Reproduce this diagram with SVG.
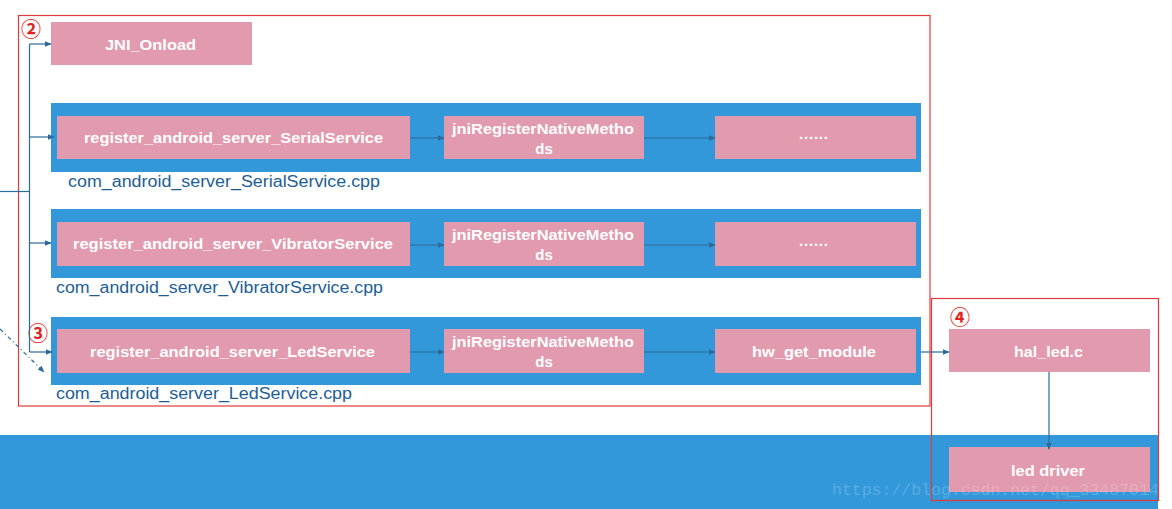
<svg xmlns="http://www.w3.org/2000/svg" width="1172" height="509" viewBox="0 0 1172 509">
  <style>
    .band { fill: #3398d9; }
    .node { fill: #e29aae; }
    .nt { font-family: "Liberation Sans", Arial, sans-serif; font-weight: bold; font-size: 15px; fill: #ffffff; text-anchor: middle; dominant-baseline: central; }
    .lbl { font-family: "Liberation Sans", Arial, sans-serif; font-size: 16px; fill: #1f5e95; }
    .frame { fill: none; stroke: #e03a3a; stroke-width: 1.2; }
    .num { font-family: "Noto Sans CJK SC", "DejaVu Sans", sans-serif; font-size: 20px; font-weight: bold; fill: #e52020; dominant-baseline: central; }
    .conn { fill: none; stroke: #2c6a9a; stroke-width: 1.2; }
    .wm { font-family: "Liberation Mono", monospace; font-size: 16.5px; fill: #ffffff; fill-opacity: 0.2; }
  </style>
  <defs>
    <marker id="arr" viewBox="0 0 10 10" refX="9" refY="5" markerWidth="7" markerHeight="7" markerUnits="userSpaceOnUse" orient="auto">
      <path d="M0,1 L10,5 L0,9 z" fill="#2c6a9a"/>
    </marker>
  </defs>

  <rect width="1172" height="509" fill="#ffffff"/>
  <!-- bottom band -->
  <rect class="band" x="0" y="435" width="1158" height="74"/>

  <!-- frames -->
  <rect class="frame" x="18.5" y="15.5" width="911.5" height="390.5"/>
  <rect class="frame" x="931.5" y="298.5" width="227" height="202"/>
  <text class="num" x="21" y="28">②</text>
  <text class="num" x="28" y="332">③</text>
  <text class="num" x="950" y="316">④</text>

  <!-- rows (blue bands) -->
  <g id="row-serial">
    <rect class="band" x="51" y="103" width="870" height="69"/>
    <text class="lbl" x="68" y="187" textLength="312" lengthAdjust="spacingAndGlyphs">com_android_server_SerialService.cpp</text>
  </g>
  <g id="row-vibrator">
    <rect class="band" x="51" y="209" width="870" height="69"/>
    <text class="lbl" x="56" y="293" textLength="327" lengthAdjust="spacingAndGlyphs">com_android_server_VibratorService.cpp</text>
  </g>
  <g id="row-led">
    <rect class="band" x="51" y="317" width="870" height="68"/>
    <text class="lbl" x="56" y="399" textLength="296" lengthAdjust="spacingAndGlyphs">com_android_server_LedService.cpp</text>
  </g>

  <!-- nodes -->
  <g id="jni-onload">
    <rect class="node" x="51" y="22" width="201" height="43"/>
    <text class="nt" x="150.5" y="44" textLength="91" lengthAdjust="spacingAndGlyphs">JNI_Onload</text>
  </g>

  <g id="reg-serial">
    <rect class="node" x="57" y="116" width="353" height="43"/>
    <text class="nt" x="233.5" y="137" textLength="299" lengthAdjust="spacingAndGlyphs">register_android_server_SerialService</text>
  </g>
  <g id="jni-serial">
    <rect class="node" x="444" y="116" width="200" height="43"/>
    <text class="nt" x="543" y="128" textLength="182" lengthAdjust="spacingAndGlyphs">jniRegisterNativeMetho</text>
    <text class="nt" x="544" y="148">ds</text>
  </g>
  <g id="more-serial">
    <rect class="node" x="715" y="116" width="201" height="43"/>
    <text class="nt" x="813.5" y="133" textLength="29" lengthAdjust="spacing">......</text>
  </g>

  <g id="reg-vibrator">
    <rect class="node" x="57" y="222" width="353" height="44"/>
    <text class="nt" x="233" y="243" textLength="320" lengthAdjust="spacingAndGlyphs">register_android_server_VibratorService</text>
  </g>
  <g id="jni-vibrator">
    <rect class="node" x="444" y="222" width="200" height="44"/>
    <text class="nt" x="543" y="234" textLength="182" lengthAdjust="spacingAndGlyphs">jniRegisterNativeMetho</text>
    <text class="nt" x="544" y="254">ds</text>
  </g>
  <g id="more-vibrator">
    <rect class="node" x="715" y="222" width="201" height="44"/>
    <text class="nt" x="813.5" y="240" textLength="29" lengthAdjust="spacing">......</text>
  </g>

  <g id="reg-led">
    <rect class="node" x="57" y="329" width="353" height="44"/>
    <text class="nt" x="232.5" y="351" textLength="285" lengthAdjust="spacingAndGlyphs">register_android_server_LedService</text>
  </g>
  <g id="jni-led">
    <rect class="node" x="444" y="329" width="200" height="44"/>
    <text class="nt" x="543" y="341" textLength="182" lengthAdjust="spacingAndGlyphs">jniRegisterNativeMetho</text>
    <text class="nt" x="544" y="361">ds</text>
  </g>
  <g id="hw-get-module">
    <rect class="node" x="715" y="329" width="201" height="44"/>
    <text class="nt" x="814" y="351" textLength="124" lengthAdjust="spacingAndGlyphs">hw_get_module</text>
  </g>

  <g id="hal-led">
    <rect class="node" x="949" y="329" width="201" height="43"/>
    <text class="nt" x="1048.5" y="351" textLength="69" lengthAdjust="spacingAndGlyphs">hal_led.c</text>
  </g>
  <g id="led-driver">
    <rect class="node" x="949" y="447" width="201" height="45"/>
    <text class="nt" x="1048" y="470" textLength="74" lengthAdjust="spacingAndGlyphs">led driver</text>
  </g>

  <!-- connectors -->
  <g id="connectors">
    <path class="conn" d="M0,191.5 H29.5"/>
    <path class="conn" d="M29.5,44 V352"/>
    <path class="conn" d="M29.5,44 H51" marker-end="url(#arr)"/>
    <path class="conn" d="M29.5,137 H54" marker-end="url(#arr)"/>
    <path class="conn" d="M29.5,243 H51" marker-end="url(#arr)"/>
    <path class="conn" d="M29.5,352 H52" marker-end="url(#arr)"/>
    <path class="conn" d="M0,329 L44,372" stroke-dasharray="4,3,1,3" marker-end="url(#arr)"/>

    <path class="conn" d="M410,138 H444" marker-end="url(#arr)"/>
    <path class="conn" d="M644,138 H715" marker-end="url(#arr)"/>
    <path class="conn" d="M410,245 H444" marker-end="url(#arr)"/>
    <path class="conn" d="M644,245 H715" marker-end="url(#arr)"/>
    <path class="conn" d="M410,352 H444" marker-end="url(#arr)"/>
    <path class="conn" d="M644,352 H715" marker-end="url(#arr)"/>
    <path class="conn" d="M921,352 H949" marker-end="url(#arr)"/>
    <path class="conn" d="M1049,372 V449" marker-end="url(#arr)"/>
  </g>

  <text class="wm" x="832" y="495">https://blog.csdn.net/qq_33487014</text>
</svg>
